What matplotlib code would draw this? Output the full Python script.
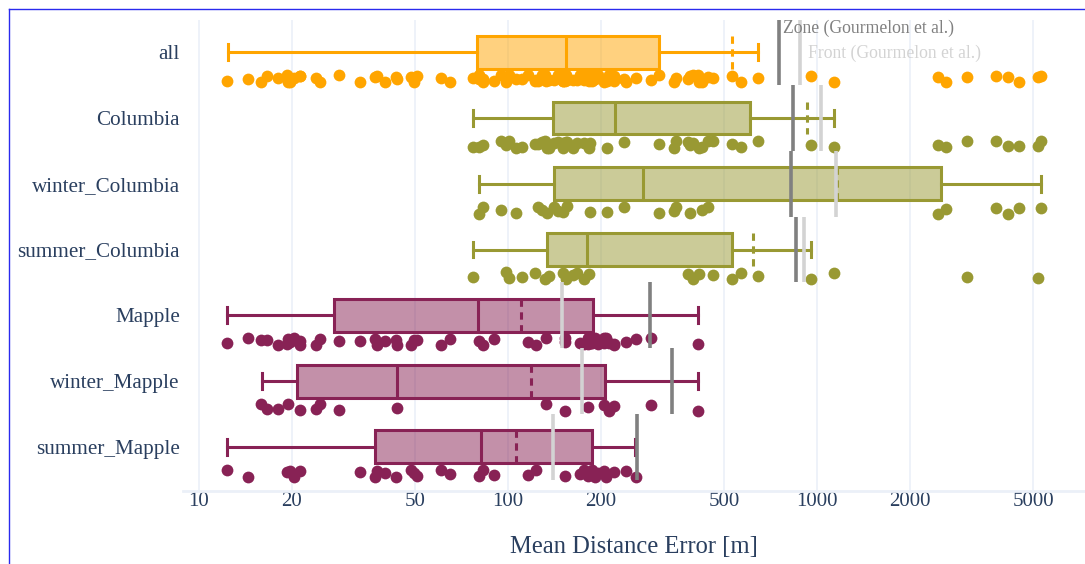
import matplotlib
matplotlib.use("Agg")
import matplotlib.pyplot as plt
from matplotlib.lines import Line2D
import numpy as np

plt.rcParams['font.family'] = ['Liberation Serif', 'DejaVu Serif']

# ---------------- data ----------------
categories = ["all", "Columbia", "winter_Columbia", "summer_Columbia",
              "Mapple", "winter_Mapple", "summer_Mapple"]

winter_columbia = [80.6, 83.0, 94.9, 106.4, 125.5, 129.1, 134.0, 140.6, 144.7, 150.2,
                   155.4, 184.5, 208.5, 237.1, 308.2, 343.2, 350.2, 387.0, 424.2, 443.9,
                   2471, 2615, 3789, 4163, 4496, 5304]
summer_columbia = [77.3, 98.4, 100.7, 111.0, 122.0, 131.8, 135.5, 150.2, 154.5, 162.2,
                   166.9, 176.7, 182.9, 381.6, 398.0, 415.6, 459.3, 529.6, 568.9, 642.7,
                   955, 1138, 3060, 5187]
winter_mapple = [15.9, 16.6, 18.05, 19.39, 21.3, 23.97, 24.6, 28.3, 43.8, 132.7,
                 152.9, 182.0, 204.0, 212.3, 220.8, 290.2, 411.0]
summer_mapple = [12.36, 14.43, 19.32, 19.73, 20.24, 21.3, 33.14, 37.2, 37.67, 39.96,
                 43.5, 48.7, 49.7, 50.6, 60.7, 65.1, 80.5, 83.0, 90.1, 116.5,
                 123.6, 152.9, 171.6, 176.0, 181.6, 185.0, 186.3, 191.2, 195.0, 205.0,
                 208.0, 220.2, 240.8, 260.2]

columbia = winter_columbia + summer_columbia
mapple = winter_mapple + summer_mapple
all_points = columbia + mapple
points = [all_points, columbia, winter_columbia, summer_columbia,
          mapple, winter_mapple, summer_mapple]

# box statistics (as drawn in the reference)
whislo = [12.4, 77.3, 80.8, 77.3, 12.36, 15.95, 12.36]
q1 = [79.3, 139.5, 140.9, 133.8, 27.3, 20.77, 37.2]
median = [154, 222, 272.9, 180.5, 80.1, 43.7, 81.5]
q3 = [309, 607, 2518, 532.5, 187.7, 206.4, 186.3]
whishi = [643, 1138, 5304, 955, 410.7, 410.7, 258]
mean = [531, 928, 1161, 622, 110.1, 118.7, 105.9]

# reference values (Gourmelon et al.)
zone_ref = [754, 836, 824, 853, 287, 340, 262]
front_ref = [881, 1030, 1151, 906, 150, 173, 140]

xticks = [10, 20, 50, 100, 200, 500, 1000, 2000, 5000]
xtick_labels = ["10", "20", "50", "100", "200", "500", "1000", "2000", "5000"]

colors = ["#FFA500", "#999933", "#999933", "#999933", "#882255", "#882255", "#882255"]

# ---------------- figure ----------------
W, H = 1085, 564
fig = plt.figure(figsize=(W / 100, H / 100), dpi=100)
ax_left, ax_right, ax_top, ax_bottom = 182.7, 1085, 20, 491
ax = fig.add_axes([ax_left / W, (H - ax_bottom) / H,
                   (ax_right - ax_left) / W, (ax_bottom - ax_top) / H])

ax.set_xscale("log")
ax.set_xlim(8.86, 7362)
ax.set_ylim(6.67, -0.49)

grid_col = "#EBF0F8"
for t in xticks:
    ax.axvline(t, color=grid_col, lw=1.2, zorder=0)

for i, c in enumerate(colors):
    st = dict(whislo=whislo[i], q1=q1[i], med=median[i], q3=q3[i],
              whishi=whishi[i], mean=mean[i], fliers=[], label=categories[i])
    kw = dict(positions=[i], widths=0.5, patch_artist=True, showmeans=True,
              meanline=True, showfliers=False, manage_ticks=False, capwidths=[0.24],
              boxprops=dict(facecolor=(c, 0.5), edgecolor=c, linewidth=2.2),
              whiskerprops=dict(color=c, linewidth=2.2),
              capprops=dict(color=c, linewidth=2.2),
              medianprops=dict(color=c, linewidth=2.2),
              meanprops=dict(color=c, linewidth=2.2, linestyle=(0, (2.4, 1.8))))
    try:
        ax.bxp([st], orientation="horizontal", **kw)
    except TypeError:
        ax.bxp([st], vert=False, **kw)

    vals = np.array(points[i])
    k = np.arange(len(vals))
    yoff = i + 0.40 + 0.055 * np.sin(k * 2.17 + i * 0.9)
    ax.scatter(vals, yoff, s=72, color=c, linewidths=0, zorder=3)

    ax.vlines(zone_ref[i], i - 0.5, i + 0.5, color="#808080", lw=2.6, zorder=5)
    ax.vlines(front_ref[i], i - 0.5, i + 0.5, color="#D3D3D3", lw=2.6, zorder=5)

ax.annotate("Zone (Gourmelon et al.)", xy=(zone_ref[0], -0.37), xytext=(2.5, 0),
            textcoords="offset points", ha="left", va="center",
            fontsize=12.7, color="#808080", zorder=6)
ax.annotate("Front (Gourmelon et al.)", xy=(front_ref[0], 0.01), xytext=(6, 0),
            textcoords="offset points", ha="left", va="center",
            fontsize=12.7, color="#D3D3D3", zorder=6)

text_col = "#2a3f5f"
ax.set_xticks(xticks)
ax.set_xticklabels(xtick_labels)
ax.xaxis.set_minor_locator(matplotlib.ticker.NullLocator())
ax.set_yticks(range(len(categories)))
ax.set_yticklabels(categories)
ax.tick_params(axis="x", length=0, pad=1, labelsize=15, labelcolor=text_col)
ax.tick_params(axis="y", length=0, pad=2, labelsize=15.2, labelcolor=text_col)

for s in ["top", "right", "left"]:
    ax.spines[s].set_visible(False)
ax.spines["bottom"].set_color(grid_col)
ax.spines["bottom"].set_linewidth(2)

fig.text(634 / W, 1 - 547 / H, "Mean Distance Error [m]", ha="center", va="center",
         fontsize=17.7, color=text_col)

border = "#2A2AEE"
fig.add_artist(Line2D([9 / W, 1], [1 - 9 / H, 1 - 9 / H], transform=fig.transFigure,
                      color=border, lw=1))
fig.add_artist(Line2D([9 / W, 9 / W], [0, 1 - 9 / H], transform=fig.transFigure,
                      color=border, lw=1))

fig.savefig("out.png", dpi=100)
